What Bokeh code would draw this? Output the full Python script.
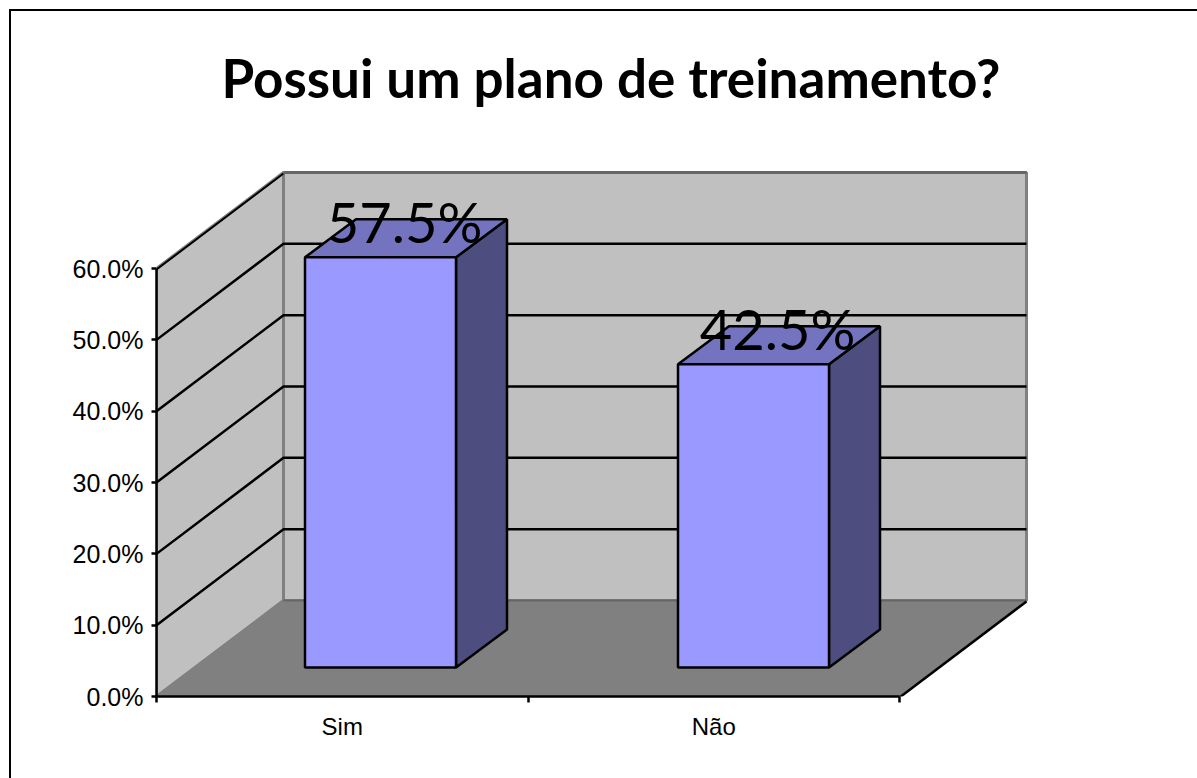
from bokeh.core.properties import value
from bokeh.embed import file_html
from bokeh.models import FixedTicker
from bokeh.plotting import figure
from bokeh.resources import INLINE

title_text = "Possui um plano de treinamento?"
categories = ["Sim", "Não"]
percent = [57.5, 42.5]
labels = ["57.5%", "42.5%"]
y_ticks = [0, 10, 20, 30, 40, 50, 60]
y_tick_labels = ["0.0%", "10.0%", "20.0%", "30.0%", "40.0%", "50.0%", "60.0%"]

# chart-area frame: margin + border, open to the window's right and bottom edges
MX, MY, BW = 9, 9, 2
OX, OY = MX + BW, MY + BW

# pixel layout of the drawing frame inside the window
W, H = 1197 - OX, 778 - OY
LEFT, BOTTOM_PX, TOP_PX, RIGHT_PX = 157 - OX - 1, 696 - OY, 130 - OY, 1040 - OX
CAT_PX = 371.5          # px per category along the front edge
PCT_PX = 428 / 60       # px per percentage point

x_max = 883 / CAT_PX
y_max = (BOTTOM_PX - TOP_PX) / PCT_PX

# oblique projection (depth of the box, in data units)
DX = 127 / CAT_PX
DY = 96 / PCT_PX
PX1 = 1 / PCT_PX
# bar solid
BAR_X0 = (305.5 - 157) / CAT_PX
BAR_W = 151 / CAT_PX
BAR_STEP = 373 / CAT_PX
BAR_LIFT = 29 / PCT_PX
BAR_DX = 51 / CAT_PX
BAR_DY = 38 / PCT_PX

C_WALL, C_FLOOR, C_EDGE = "#C0C0C0", "#808080", "#666666"
C_FRONT, C_SIDE, C_TOP = "#9999FF", "#4D4D80", "#7373BF"
LW = 2.5

p = figure(width=W, height=H, output_backend="svg", toolbar_location=None,
           x_range=(0, x_max), y_range=(0, y_max),
           min_border_left=LEFT, min_border_right=W - RIGHT_PX + 3,
           min_border_top=TOP_PX, min_border_bottom=H - BOTTOM_PX + 2,
           background_fill_color="white", border_fill_color="white",
           styles={"margin-left": f"{MX}px", "margin-top": f"{MY}px",
                   "border-left": f"{BW}px solid black", "border-top": f"{BW}px solid black",
                   "box-sizing": "content-box"})
p.outline_line_color = None
p.grid.visible = False

# walls and floor
n = len(categories)
p.patch([0, DX, DX, 0], [0, DY, 60 + DY, 60], fill_color=C_WALL, line_color=C_FLOOR, line_width=3)
p.patch([DX, n + DX, n + DX, DX], [DY, DY, 60 + DY, 60 + DY], fill_color=C_WALL, line_color=C_FLOOR, line_width=3)
p.patch([0, n, n + DX, DX], [0, 0, DY, DY], fill_color=C_FLOOR, line_color=C_FLOOR, line_width=2)
p.line([DX, n + DX], [DY, DY], line_color=C_EDGE, line_width=2)

# gridlines
for t in y_ticks[1:-1]:
    p.line([0, DX, n + DX], [t, t + DY, t + DY], line_color="black", line_width=LW)
p.line([0, DX], [60 - PX1, 60 + DY - PX1], line_color="black", line_width=2)
p.line([DX, n + DX], [60 + DY, 60 + DY], line_color=C_EDGE, line_width=3)
p.line([n, n + DX], [0 - PX1, DY - PX1], line_color="black", line_width=LW)

# bars
for i, v in enumerate(percent):
    x0 = i * BAR_STEP + BAR_X0
    x1 = x0 + BAR_W
    y0 = BAR_LIFT
    y1 = BAR_LIFT + v
    p.patch([x1, x1 + BAR_DX, x1 + BAR_DX, x1], [y0, y0 + BAR_DY, y1 + BAR_DY, y1],
            fill_color=C_SIDE, line_color="black", line_width=LW)
    p.patch([x0, x1, x1 + BAR_DX, x0 + BAR_DX], [y1, y1, y1 + BAR_DY, y1 + BAR_DY],
            fill_color=C_TOP, line_color="black", line_width=LW)
    p.patch([x0, x1, x1, x0], [y0, y0, y1, y1],
            fill_color=C_FRONT, line_color="black", line_width=LW)
    p.text([x0 + BAR_W / 2 + BAR_DX / 2 - 1.5 / CAT_PX], [y1 + 36 / PCT_PX], text=[labels[i]],
           text_font=value("Lato"), text_font_size="56px", text_color="black",
           text_align="center", text_baseline="alphabetic")

# axes
yax = p.yaxis[0]
yax.ticker = FixedTicker(ticks=y_ticks)
yax.major_label_overrides = {t: s for t, s in zip(y_ticks, y_tick_labels)}
yax.bounds = (0, 60)
yax.axis_line_color = "black"
yax.axis_line_width = LW
yax.major_tick_line_width = LW
yax.major_tick_out = 5
yax.major_tick_in = 0
yax.minor_tick_line_color = None
yax.major_label_standoff = 8
yax.major_label_text_font = "Liberation Sans"
yax.major_label_text_font_size = "25px"
yax.major_label_text_color = "black"

xax = p.xaxis[0]
xax.ticker = FixedTicker(ticks=[i + 0.5 for i in range(n)], minor_ticks=list(range(n + 1)))
xax.major_label_overrides = {i + 0.5: c for i, c in enumerate(categories)}
xax.bounds = (0, n)
xax.axis_line_color = "black"
xax.axis_line_width = LW
xax.major_tick_line_color = None
xax.major_tick_out = 15
xax.minor_tick_line_color = "black"
xax.minor_tick_line_width = LW
xax.minor_tick_out = 6
xax.minor_tick_in = 0
xax.major_label_standoff = 1
xax.major_label_text_font = "Liberation Sans"
xax.major_label_text_font_size = "24px"
xax.major_label_text_color = "black"

# title
p.title.text = title_text
p.title.align = "left"
p.title.offset = 65
p.title.text_font = "Lato"
p.title.text_font_style = "bold"
p.title.text_font_size = "53px"
p.title.text_color = "black"
p.title.standoff = 43

open("out.html", "w").write(file_html(p, INLINE))
